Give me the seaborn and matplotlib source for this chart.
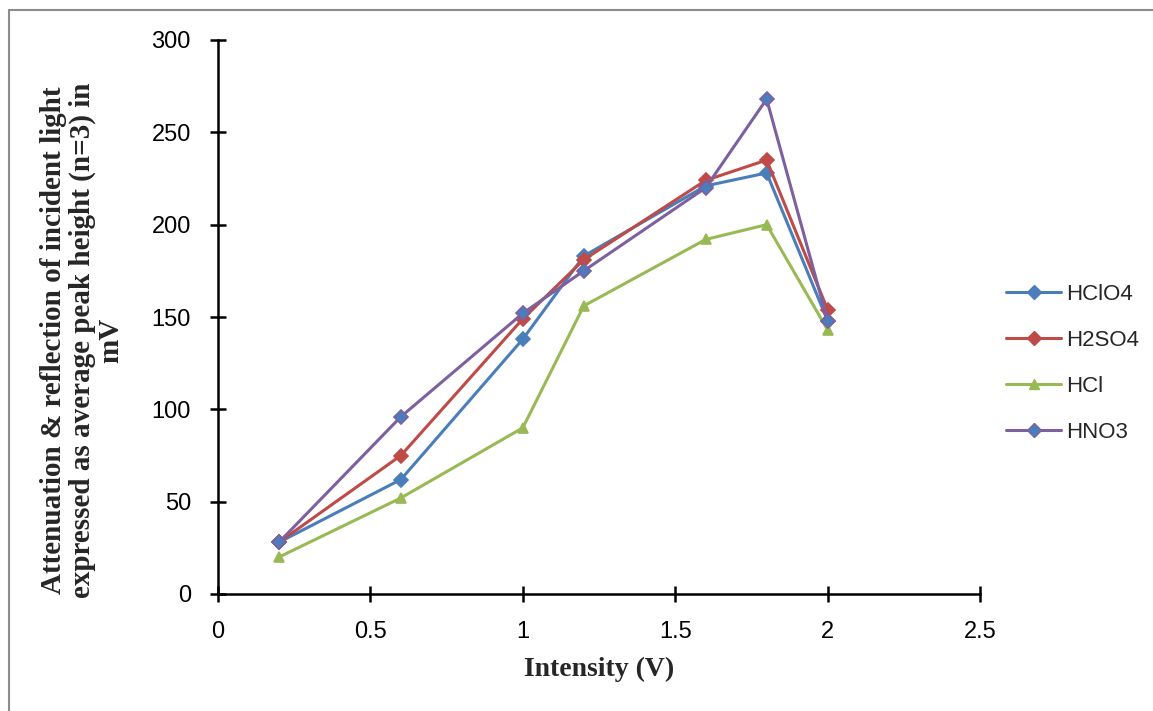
import pandas as pd
import matplotlib
matplotlib.use("Agg")
import matplotlib.pyplot as plt
import seaborn as sns
from matplotlib.lines import Line2D

# ------------------------------
# Data
# ------------------------------
intensity = [0.2, 0.6, 1.0, 1.2, 1.6, 1.8, 2.0]
hclo4 = [28, 62, 138, 183, 221, 228, 148]
h2so4 = [28, 75, 149, 181, 224, 235, 154]
hcl = [20, 52, 90, 156, 192, 200, 143]
hno3 = [28, 96, 152, 175, 220, 268, 148]
acids = ["HClO4", "H2SO4", "HCl", "HNO3"]

df = pd.DataFrame({"x": intensity, "HClO4": hclo4, "H2SO4": h2so4,
                   "HCl": hcl, "HNO3": hno3})
long = df.melt(id_vars="x", var_name="acid", value_name="y")

colors = {"HClO4": "#4A7EBB", "H2SO4": "#BE4B48", "HCl": "#98B954", "HNO3": "#7D60A0"}
markers = {"HClO4": "D", "H2SO4": "D", "HCl": "^", "HNO3": "D"}

sns.set_style("white")
plt.rcParams["font.family"] = ["Liberation Sans", "DejaVu Sans"]

fig = plt.figure(figsize=(11.53, 7.11), dpi=100)
ax = fig.add_axes([218 / 1153, 1 - 594 / 711, (980 - 218) / 1153, (594 - 40) / 711])

sns.lineplot(data=long, x="x", y="y", hue="acid", style="acid", hue_order=acids,
             style_order=acids, palette=colors, markers=markers, dashes=False,
             linewidth=2.2, markersize=7.5, markeredgewidth=1.2, legend=False, ax=ax)

# Excel draws the HNO3 diamonds with a blue fill
for ln, acid in zip(ax.get_lines(), acids):
    ln.set_markeredgecolor(colors[acid])
    if acid == "HNO3":
        ln.set_markerfacecolor("#4A7EBB")
    ln.set_zorder(3)

ax.set_xlim(0, 2.5)
ax.set_ylim(0, 300)
ax.set_xticks([0, 0.5, 1, 1.5, 2, 2.5])
ax.set_xticklabels(["0", "0.5", "1", "1.5", "2", "2.5"])
ax.set_yticks(range(0, 301, 50))
for side in ["top", "right"]:
    ax.spines[side].set_visible(False)
for side in ["left", "bottom"]:
    ax.spines[side].set_color("black")
    ax.spines[side].set_linewidth(1.8)
ax.tick_params(axis="both", which="major", bottom=True, left=True, direction="inout",
               length=11, width=1.8, labelsize=17, colors="black")
ax.tick_params(axis="x", pad=14)
ax.tick_params(axis="y", pad=14)

ax.set_ylabel("")
ax.set_xlabel("Intensity (V)", family="Liberation Serif", fontweight="bold",
              fontsize=20, labelpad=10)
fig.text(82 / 1153, 1 - 340 / 711,
         "Attenuation & reflection of incident light\n"
         "expressed as average peak height (n=3) in\nmV",
         family="Liberation Serif", fontweight="bold", fontsize=21,
         rotation=90, ha="center", va="center", multialignment="center",
         linespacing=1.08)

handles = [Line2D([0], [0], color=colors[a], lw=2.2, marker=markers[a], markersize=7,
                  markeredgecolor=colors[a],
                  markerfacecolor="#4A7EBB" if a == "HNO3" else colors[a])
           for a in acids]
fig.legend(handles, acids, loc="upper left", bbox_to_anchor=(997 / 1153, 1 - 275 / 711),
           frameon=False, fontsize=16, handlelength=2.5, labelspacing=1.12,
           handletextpad=0.2, borderaxespad=0)

# grey frame around the chart area
fig.add_artist(Line2D([9 / 1153, 9 / 1153], [0, 1 - 10 / 711], transform=fig.transFigure,
                      color="#8C8C8C", lw=1.5))
fig.add_artist(Line2D([9 / 1153, 1], [1 - 10 / 711, 1 - 10 / 711], transform=fig.transFigure,
                      color="#8C8C8C", lw=1.5))

fig.savefig("out.png", dpi=100, facecolor="white")
